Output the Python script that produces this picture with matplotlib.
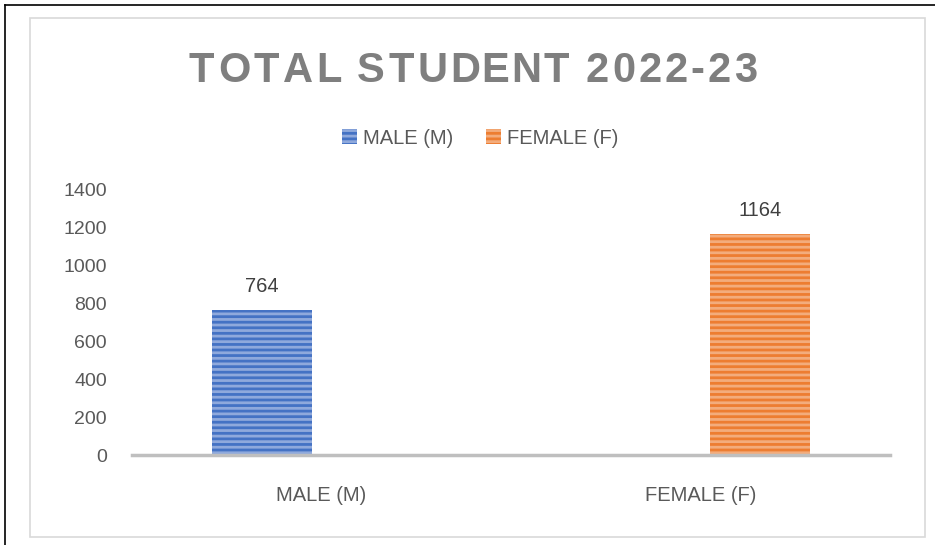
import matplotlib
matplotlib.use("Agg")
import matplotlib.pyplot as plt
from matplotlib.patches import Rectangle
from matplotlib.lines import Line2D
from matplotlib.textpath import TextPath
from matplotlib.font_manager import FontProperties
import numpy as np

categories = ["MALE (M)", "FEMALE (F)"]
series_names = ["MALE (M)", "FEMALE (F)"]
male_values = [764, 0]
female_values = [0, 1164]
yticks = [0, 200, 400, 600, 800, 1000, 1200, 1400]
title = "TOTAL STUDENT 2022-23"

blue = "#4472C4"
orange = "#ED7D31"
blue_stripe = "#8FA9DC"
orange_stripe = "#F3AC7C"
font = "Liberation Sans"

W, H = 935, 545
fig = plt.figure(figsize=(W / 100, H / 100), dpi=100)

def fx(px):
    return px / W

def fy(py):
    return 1 - py / H

# outer black lines
fig.add_artist(Line2D([fx(5), fx(5)], [fy(5), fy(545)], color="black", lw=1.2, transform=fig.transFigure))
fig.add_artist(Line2D([fx(5), fx(935)], [fy(5), fy(5)], color="black", lw=1.2, transform=fig.transFigure))
# inner gray frame
fig.add_artist(Rectangle((fx(30), fy(537)), fx(925) - fx(30), fy(18) - fy(537), fill=False,
                         edgecolor="#D9D9D9", lw=1.2, transform=fig.transFigure))

ax = fig.add_axes([fx(132), fy(455), fx(890) - fx(132), fy(189) - fy(455)])
x = np.arange(len(categories))
bw = 0.264
off = 0.158
plt.rcParams["hatch.linewidth"] = 2.0
b1 = ax.bar(x - off, male_values, bw, color=blue, edgecolor=blue_stripe, lw=0, hatch="---", label=series_names[0])
b2 = ax.bar(x + off, female_values, bw, color=orange, edgecolor=orange_stripe, lw=0, hatch="---", label=series_names[1])

ax.set_xlim(-0.5, len(categories) - 0.5)
ax.set_ylim(0, 1400)
ax.set_yticks(yticks)
ax.set_yticklabels([str(v) for v in yticks], fontsize=14, color="#595959", family=font)
ax.set_xticks(x)
ax.set_xticklabels(categories, fontsize=14.5, color="#595959", family=font)
ax.tick_params(axis="both", length=0)
ax.tick_params(axis="y", pad=18)
ax.tick_params(axis="x", pad=22)
for s in ["top", "right", "left"]:
    ax.spines[s].set_visible(False)
ax.spines["bottom"].set_color("#BFBFBF")
ax.spines["bottom"].set_linewidth(2.5)
ax.set_facecolor("none")

for i in range(len(categories)):
    if male_values[i] > 0:
        ax.annotate(str(male_values[i]), (x[i] - off, male_values[i]), xytext=(0, 10), textcoords="offset points",
                    ha="center", va="bottom", fontsize=14.5, color="#404040", family=font)
    if female_values[i] > 0:
        ax.annotate(str(female_values[i]), (x[i] + off, female_values[i]), xytext=(0, 10), textcoords="offset points",
                    ha="center", va="bottom", fontsize=14.5, color="#404040", family=font)

# letter-spaced title
tsize = 30
tprop = FontProperties(family=font, weight="bold", size=tsize)
spacing_px = 1.4
widths = []
for ch in title:
    if ch == " ":
        w_aa = TextPath((0, 0), "aa", prop=tprop).get_extents().width
        w = TextPath((0, 0), "a a", prop=tprop).get_extents().width - w_aa
    else:
        w = TextPath((0, 0), ch + "|", prop=tprop).get_extents().width - TextPath((0, 0), "|", prop=tprop).get_extents().width
    widths.append(w * 100 / 72)
total = sum(widths) + spacing_px * (len(title) - 1)
cx = 474
xpos = cx - total / 2
for ch, w in zip(title, widths):
    fig.text(fx(xpos), fy(71), ch, ha="left", va="center", fontproperties=tprop, color="#7F7F7F")
    xpos += w + spacing_px

leg = fig.legend(handles=[b1, b2], loc="center", bbox_to_anchor=(fx(480), fy(138)), ncol=2, frameon=False,
                 prop={"family": font, "size": 14.5}, handlelength=0.75, handleheight=0.75, columnspacing=1.6,
                 handletextpad=0.3)
for t in leg.get_texts():
    t.set_color("#595959")

fig.savefig("out.png", dpi=100)
